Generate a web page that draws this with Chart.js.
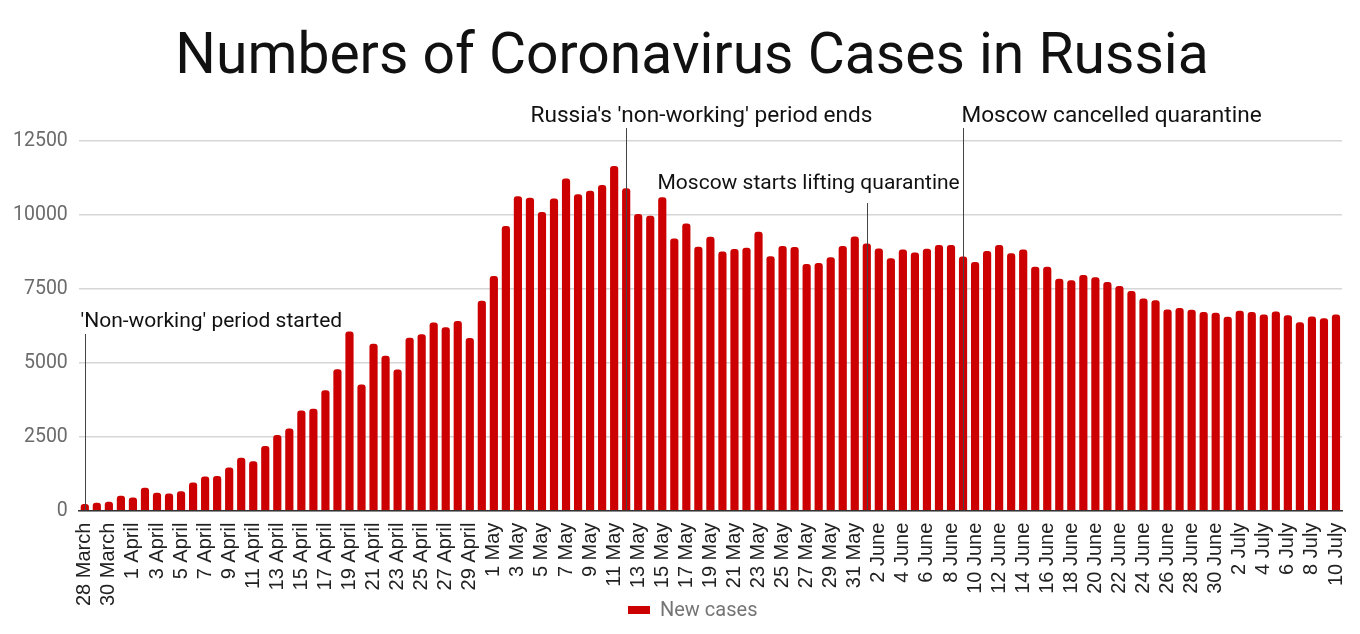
<!DOCTYPE html>
<html>
<head>
<meta charset="utf-8">
<script src="https://cdn.jsdelivr.net/npm/chart.js@4"></script>
<style>
  body { margin: 0; background: #fff; }
  #wrap { width: 1360px; height: 634px; }
</style>
</head>
<body>
<div id="wrap"><canvas id="graph"></canvas></div>
<script>
// months shown on the x axis (28 March .. 10 July)
const months = [
    {name: "March", from: 28, to: 31},
    {name: "April", from: 1, to: 30},
    {name: "May", from: 1, to: 31},
    {name: "June", from: 1, to: 30},
    {name: "July", from: 1, to: 10}
]

const days = []
months.forEach(({name, from, to}) => {
    for (let d = from; d <= to; d++) days.push(`${d} ${name}`)
})

// new cases per day
const newCases = [
    228, 270, 302, 501,
    440, 771, 601, 582, 658, 954, 1154, 1175, 1459, 1786,
    1667, 2186, 2558, 2774, 3388, 3448, 4070, 4785, 6060, 4268,
    5642, 5236, 4774, 5849, 5966, 6361, 6198, 6411, 5841, 7099,
    7933, 9623, 10633, 10581, 10102, 10559, 11231, 10699, 10817, 11012,
    11656, 10899, 10028, 9974, 10598, 9200, 9709, 8926, 9263, 8764,
    8849, 8894, 9434, 8599, 8946, 8915, 8338, 8371, 8572, 8952, 9268,
    9035, 8863, 8536, 8831, 8726, 8855, 8984, 8985, 8595, 8404,
    8779, 8987, 8706, 8835, 8246, 8248, 7843, 7790, 7972, 7889,
    7728, 7600, 7425, 7176, 7113, 6800, 6852, 6791, 6719, 6693,
    6556, 6760, 6718, 6632, 6736, 6611, 6368, 6562, 6509, 6635
]

const yTicks = [0, 2500, 5000, 7500, 10000, 12500]

const chartTitle = 'Numbers of Coronavirus Cases in Russia'

// events marked on the chart: day index + text
const events = [
    {day: 0,  text: "'Non-working' period started"},
    {day: 45, text: "Russia's 'non-working' period ends"},
    {day: 65, text: "Moscow starts lifting quarantine"},
    {day: 73, text: "Moscow cancelled quarantine"}
]
// where each event text sits relative to its line
const eventLayout = [
    {dx: -5,   textY: 322, lineTop: 334, size: 21},
    {dx: -96,  textY: 116, lineTop: 128, size: 22.6},
    {dx: -210, textY: 184, lineTop: 203, size: 21},
    {dx: -2,   textY: 116, lineTop: 128, size: 22.6}
]

const eventsPlugin = {
    id: 'events',
    afterDatasetsDraw(chart) {
        const {ctx, scales: {x, y}} = chart
        ctx.save()
        events.forEach((ev, i) => {
            const lay = eventLayout[i]
            const px = Math.round(x.getPixelForValue(ev.day)) + 0.5
            ctx.strokeStyle = '#444'
            ctx.lineWidth = 1
            ctx.beginPath()
            ctx.moveTo(px, lay.lineTop)
            ctx.lineTo(px, y.getPixelForValue(0))
            ctx.stroke()
            ctx.fillStyle = '#111'
            ctx.font = `${lay.size}px Roboto`
            ctx.textBaseline = 'middle'
            ctx.textAlign = 'left'
            ctx.fillText(ev.text, px + lay.dx, lay.textY)
        })
        ctx.restore()
    }
}

// title and legend drawn by hand so they sit where the original has them
const headerPlugin = {
    id: 'header',
    afterDraw(chart) {
        const {ctx} = chart
        const ds = chart.data.datasets[0]
        ctx.save()
        ctx.fillStyle = '#111'
        ctx.font = '57px Roboto'
        ctx.textAlign = 'center'
        ctx.textBaseline = 'alphabetic'
        ctx.fillText(chartTitle, 692, 73)

        ctx.fillStyle = ds.backgroundColor
        ctx.fillRect(628, 606, 22, 8)
        ctx.fillStyle = '#757575'
        ctx.font = '20px Roboto'
        ctx.textAlign = 'left'
        ctx.textBaseline = 'middle'
        ctx.fillText(ds.label, 660, 611)
        ctx.restore()
    }
}

const ctx = document.querySelector('#graph').getContext('2d')

new Chart(ctx, {
    type: 'bar',
    data: {
        labels: days,
        datasets: [{
            label: 'New cases',
            data: newCases,
            backgroundColor: '#cc0000',
            borderRadius: 3,
            barPercentage: 0.68,
            categoryPercentage: 1
        }]
    },
    options: {
        responsive: true,
        maintainAspectRatio: false,
        animation: false,
        layout: {padding: {top: 141, left: 2, right: 18, bottom: 24}},
        plugins: {
            title: {display: false},
            legend: {display: false},
            tooltip: {enabled: false}
        },
        scales: {
            x: {
                afterFit: (axis) => { axis.paddingLeft = 0; axis.paddingRight = 0 },
                grid: {display: false},
                border: {color: '#333', width: 1.5},
                ticks: {
                    autoSkip: false,
                    minRotation: 90,
                    maxRotation: 90,
                    color: '#222',
                    padding: 4,
                    font: {family: 'Liberation Sans', size: 20},
                    callback: (v, i) => i % 2 === 0 ? days[i] : ''
                }
            },
            y: {
                min: 0,
                max: 12500,
                afterBuildTicks: (axis) => { axis.ticks = yTicks.map(v => ({value: v})) },
                grid: {color: '#d6d6d6', lineWidth: 1.5, drawTicks: false},
                border: {display: false},
                ticks: {
                    color: '#6b6b6b',
                    padding: 11,
                    font: {family: 'Roboto', size: 19.5},
                    callback: (v) => String(v)
                }
            }
        }
    },
    plugins: [eventsPlugin, headerPlugin]
})
</script>
</body>
</html>
